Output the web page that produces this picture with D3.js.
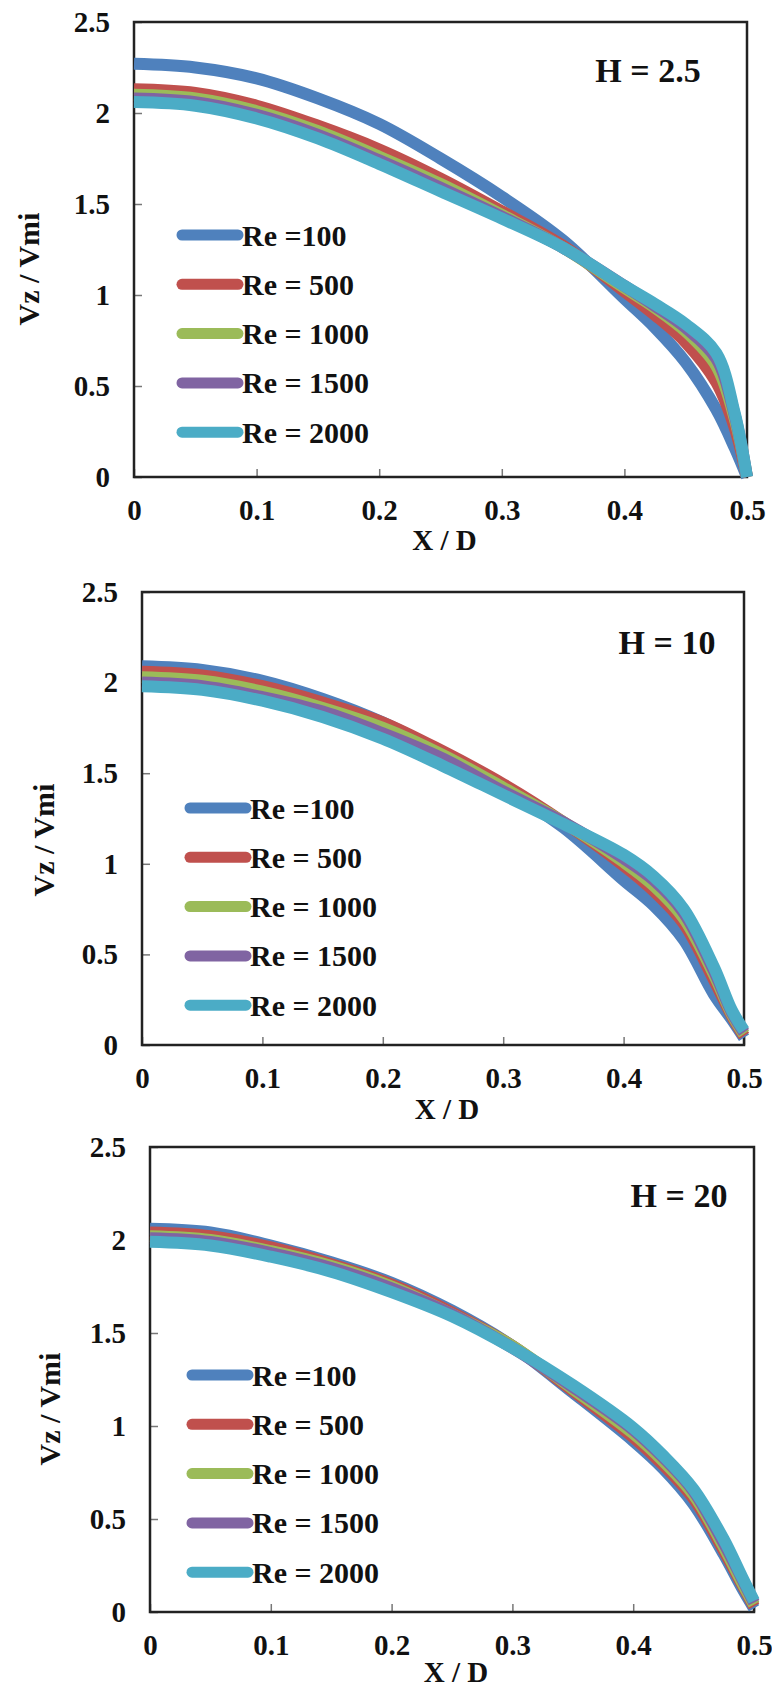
<!DOCTYPE html>
<meta charset="utf-8">
<head>
<script src="https://d3js.org/d3.v7.min.js"></script>
<style>
    body { margin: 0; background: #fff; }
    text { font-family: "Liberation Serif", "Times New Roman", serif; font-weight: bold; fill: #111; }
    .tick line { stroke: #777; stroke-width: 1.5; }
</style>
</head>
<body>
<svg width="772" height="1688"></svg>
<script>

// X / D positions shared by every curve
var xVals = [0, 0.05, 0.1, 0.15, 0.2, 0.25, 0.3, 0.35, 0.4, 0.425, 0.45, 0.475, 0.49, 0.5];

var reLabels = ["Re =100", "Re = 500", "Re = 1000", "Re = 1500", "Re = 2000"];
var hLabels = ["H = 2.5", "H = 10", "H = 20"];
var yTicks = [0, 0.5, 1, 1.5, 2, 2.5];
var xTicks = [0, 0.1, 0.2, 0.3, 0.4, 0.5];

// Vz / Vmi, one row per Re (100, 500, 1000, 1500, 2000)
var h25 = [
    [2.27, 2.25, 2.19, 2.08, 1.94, 1.75, 1.54, 1.30, 0.98, 0.82, 0.63, 0.37, 0.16, 0],
    [2.13, 2.11, 2.04, 1.93, 1.80, 1.64, 1.46, 1.27, 1.02, 0.89, 0.74, 0.52, 0.27, 0],
    [2.10, 2.08, 2.01, 1.90, 1.76, 1.61, 1.44, 1.26, 1.04, 0.93, 0.80, 0.61, 0.32, 0],
    [2.08, 2.06, 1.99, 1.88, 1.74, 1.59, 1.43, 1.26, 1.05, 0.94, 0.82, 0.65, 0.34, 0],
    [2.06, 2.04, 1.97, 1.86, 1.72, 1.57, 1.42, 1.26, 1.05, 0.95, 0.84, 0.68, 0.35, 0]
];
var h10 = [
    [2.09, 2.07, 2.01, 1.91, 1.78, 1.61, 1.42, 1.20, 0.91, 0.77, 0.58, 0.28, 0.14, 0.04],
    [2.06, 2.04, 1.98, 1.89, 1.78, 1.62, 1.44, 1.23, 0.99, 0.85, 0.67, 0.36, 0.16, 0.05],
    [2.03, 2.01, 1.95, 1.86, 1.75, 1.60, 1.42, 1.23, 1.01, 0.88, 0.70, 0.39, 0.17, 0.06],
    [2.00, 1.98, 1.92, 1.84, 1.72, 1.58, 1.40, 1.23, 1.03, 0.91, 0.73, 0.41, 0.18, 0.07],
    [1.98, 1.96, 1.90, 1.81, 1.69, 1.54, 1.38, 1.22, 1.05, 0.93, 0.75, 0.43, 0.19, 0.08]
];
var h20 = [
    [2.06, 2.04, 1.97, 1.88, 1.77, 1.62, 1.43, 1.18, 0.92, 0.77, 0.58, 0.31, 0.13, 0.02],
    [2.04, 2.02, 1.96, 1.87, 1.76, 1.61, 1.43, 1.19, 0.94, 0.79, 0.61, 0.33, 0.15, 0.03],
    [2.02, 2.00, 1.94, 1.86, 1.75, 1.60, 1.43, 1.20, 0.96, 0.81, 0.63, 0.35, 0.16, 0.04],
    [2.01, 1.99, 1.93, 1.85, 1.74, 1.60, 1.42, 1.21, 0.98, 0.83, 0.65, 0.37, 0.18, 0.05],
    [1.99, 1.97, 1.91, 1.83, 1.72, 1.59, 1.42, 1.22, 0.99, 0.84, 0.66, 0.39, 0.19, 0.06]
];

var colors = ["#4f81bd", "#c0504d", "#9bbb59", "#8064a2", "#4bacc6"];

// page layout of the three stacked panels
var panels = [
    {series: h25, left: 134, right: 747, top: 22, bottom: 477, hx: 648, hy: 70, legX: 182, legY: 235, ytX: 28, ytY: 269, xtY: 540},
    {series: h10, left: 142, right: 744, top: 592, bottom: 1045, hx: 667, hy: 642, legX: 190, legY: 808, ytX: 43, ytY: 840, xtY: 1109},
    {series: h20, left: 150, right: 754, top: 1147, bottom: 1612, hx: 679, hy: 1195, legX: 192, legY: 1375, ytX: 49, ytY: 1409, xtY: 1672}
];

var svg = d3.select("svg");

panels.forEach(function(p, pi) {
    var x = d3.scaleLinear().domain([0, 0.5]).range([p.left, p.right]),
        y = d3.scaleLinear().domain([0, 2.5]).range([p.bottom, p.top]);

    var g = svg.append("g");

    g.append("g")
        .attr("transform", "translate(" + p.left + ",0)")
        .call(d3.axisLeft(y).tickValues(yTicks).tickSize(-8).tickPadding(24).tickFormat(d3.format("")))
        .call(function(a) { a.select(".domain").remove(); })
        .selectAll("text").attr("font-size", 29);

    g.append("g")
        .attr("transform", "translate(0," + p.bottom + ")")
        .call(d3.axisBottom(x).tickValues(xTicks).tickSize(-8).tickPadding(22).tickFormat(d3.format("")))
        .call(function(a) { a.select(".domain").remove(); })
        .selectAll("text").attr("font-size", 29);

    g.append("rect")
        .attr("x", p.left)
        .attr("y", p.top)
        .attr("width", p.right - p.left)
        .attr("height", p.bottom - p.top)
        .attr("fill", "none")
        .attr("stroke", "#222")
        .attr("stroke-width", 2.5);

    var line = d3.line()
        .x(function(d, i) { return x(xVals[i]); })
        .y(function(d) { return y(d); })
        .curve(d3.curveCatmullRom.alpha(0.5));

    g.selectAll(".curve")
        .data(p.series)
        .enter().append("path")
        .attr("class", "curve")
        .attr("d", line)
        .attr("fill", "none")
        .attr("stroke", function(d, i) { return colors[i]; })
        .attr("stroke-width", 12);

    g.append("text")
        .attr("x", p.hx)
        .attr("y", p.hy)
        .attr("text-anchor", "middle")
        .attr("dominant-baseline", "central")
        .attr("font-size", 34)
        .text(hLabels[pi]);

    var leg = g.selectAll(".leg")
        .data(reLabels)
        .enter().append("g")
        .attr("transform", function(d, i) { return "translate(" + p.legX + "," + (p.legY + i * 49.3) + ")"; });

    leg.append("line")
        .attr("x1", 0).attr("x2", 56)
        .attr("stroke", function(d, i) { return colors[i]; })
        .attr("stroke-width", 11)
        .attr("stroke-linecap", "round");

    leg.append("text")
        .attr("x", 60)
        .attr("dominant-baseline", "central")
        .attr("font-size", 30)
        .text(function(d) { return d; });

    g.append("text")
        .attr("transform", "translate(" + p.ytX + "," + p.ytY + ") rotate(-90)")
        .attr("text-anchor", "middle")
        .attr("dominant-baseline", "central")
        .attr("font-size", 30)
        .text("Vz / Vmi");

    g.append("text")
        .attr("x", (p.left + p.right) / 2 + 4)
        .attr("y", p.xtY)
        .attr("text-anchor", "middle")
        .attr("dominant-baseline", "central")
        .attr("font-size", 29)
        .text("X / D");
});

</script>
</body>
